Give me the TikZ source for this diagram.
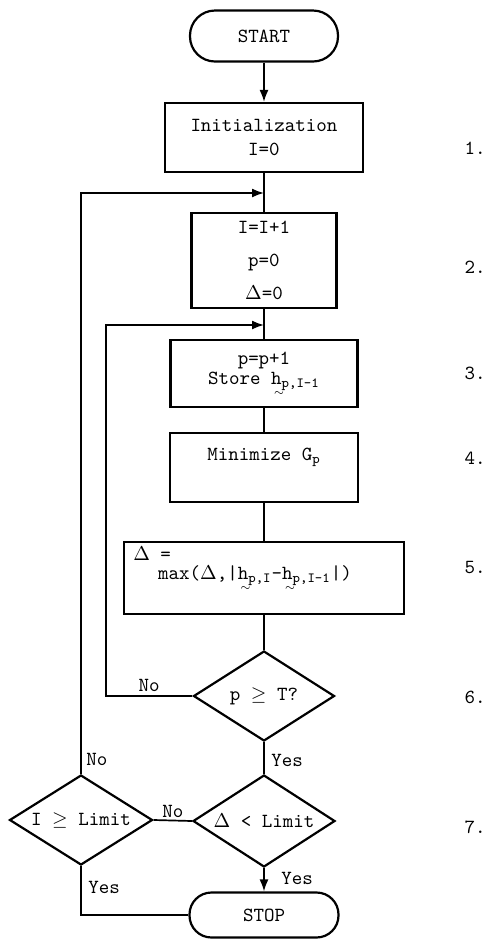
\documentclass[tikz,border=0pt]{standalone}
\usetikzlibrary{shapes.geometric,arrows.meta}
\newcommand\uh{\rlap{\raisebox{-1.25ex}{\kern0.12em\tiny$\sim$}}h}
\begin{document}
\begin{tikzpicture}[x=0.5pt,y=-0.5pt,
  font=\ttfamily\fontsize{10}{12}\selectfont,
  box/.style={draw,line width=1.1pt,rectangle,inner sep=0pt,align=center},
  term/.style={draw,line width=1.1pt,rectangle,inner sep=0pt},
  dec/.style={draw,line width=1.1pt,diamond,inner sep=0pt,aspect=1.57},
  conn/.style={line width=0.85pt},
  arr/.style={conn,-{Latex[length=6pt,width=4.5pt]}},
  lbl/.style={inner sep=0pt},
  num/.style={inner sep=0pt}]
\useasboundingbox (0,0) rectangle (487,939);
% nodes
\node[term,rounded corners=12.5pt,minimum width=74pt,minimum height=25.5pt] (start) at (264,36) {START};
\node[box,minimum width=99pt,minimum height=34.5pt] (init) at (264,137.5) {Initialization\\I=0};
\node[box,minimum width=72.5pt,minimum height=47.5pt] (iter) at (264,260.5) {I=I+1\\[4.5pt]p=0\\[4.5pt]$\Delta$=0};
\node[box,minimum width=93.5pt,minimum height=33.5pt] (store) at (264,373.5) {p=p+1\\[-2pt]Store \uh\textsubscript{p,I-1}};
\node[box,minimum width=94pt,minimum height=34.5pt,
  label={[yshift=5pt]center:Minimize G\textsubscript{p}}] (mini) at (264,467.5) {};
\node[box,minimum width=140pt,minimum height=36pt,
  label={[anchor=north west,inner sep=0pt,xshift=5pt,yshift=-3pt]north west:$\Delta$ =}] (upd) at (264,578)
  {\hspace*{-9pt}max($\Delta$,|\uh\textsubscript{p,I}-\uh\textsubscript{p,I-1}|)};
\node[dec,minimum width=70.5pt,minimum height=45pt] (ptest) at (264,696) {p $\geq$ T?};
\node[dec,minimum width=71pt,minimum height=46pt] (dlim) at (264,821) {$\Delta$ < Limit};
\node[dec,minimum width=71.5pt,minimum height=45pt] (ilim) at (81,820) {I $\geq$ Limit};
\node[term,rounded corners=11pt,minimum width=74.5pt,minimum height=22.5pt] (stop) at (264,915) {STOP};
% junctions
\coordinate (j1) at (264,193);
\coordinate (j2) at (264,325);
\coordinate (c2) at (106,696);
% connectors
\draw[arr] (start) -- (init);
\draw[conn] (init) -- (iter);
\draw[conn] (iter) -- (store);
\draw[conn] (store) -- (mini);
\draw[conn] (mini) -- (upd);
\draw[conn] (upd) -- (ptest);
\draw[conn] (ptest) -- (dlim);
\draw[arr] (dlim) -- (stop);
\draw[arr] (ptest.west) -- node[lbl,above=2pt]{No} (c2) |- (j2);
\draw[conn] (dlim.west) -- node[lbl,above=1pt]{No} (ilim.east);
\draw[arr] (ilim.north) |- (j1);
\draw[conn] (ilim.south) |- (stop.west);
% branch labels
\node[lbl,anchor=west] (yes1) at (271,760) {Yes};
\node[lbl,anchor=west] (yes2) at (281,878) {Yes};
\node[lbl,anchor=west] (no3) at (86,759) {No};
\node[lbl,anchor=west] (yes3) at (88,887) {Yes};
% step numbers
\node[num] (n1) at (475,148) {1.};
\node[num] (n2) at (475,267) {2.};
\node[num] (n3) at (475,373) {3.};
\node[num] (n4) at (475,458) {4.};
\node[num] (n5) at (475,567) {5.};
\node[num] (n6) at (475,697) {6.};
\node[num] (n7) at (475,827) {7.};
\end{tikzpicture}
\end{document}
